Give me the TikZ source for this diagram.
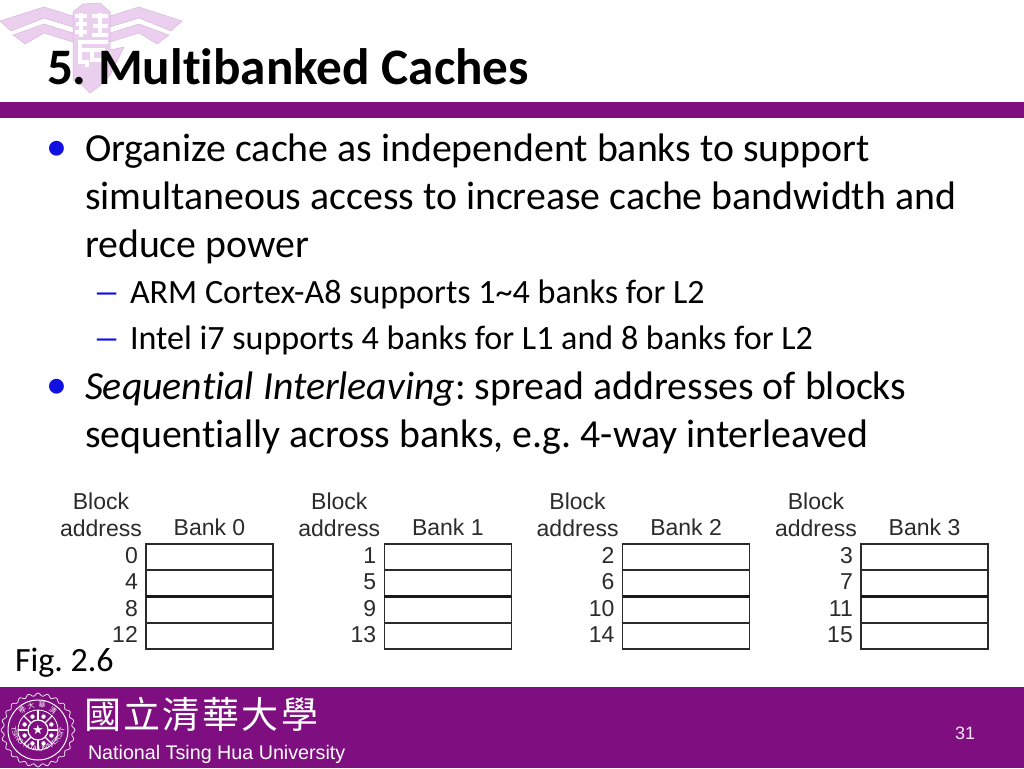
\documentclass[tikz,border=0pt]{standalone}
\usepackage{fontspec}
\usepackage{graphicx}
\usetikzlibrary{calc,decorations.text}
\setmainfont{Carlito}[Ligatures={NoCommon,NoRequired,NoContextual},Contextuals=NoAlternate]
\newfontfamily\arialf{Liberation Sans}
\newfontfamily\dejaf{DejaVu Sans}
\newfontfamily\cjkf{Noto Sans CJK TC}[LetterSpace=6.5]
\newfontfamily\cjksmall{Noto Sans CJK TC}
\definecolor{nthu}{HTML}{7F0F80}
\definecolor{logo}{HTML}{EBCFEE}
\definecolor{logoedge}{HTML}{D8B8DC}
\definecolor{figtext}{HTML}{2B2B2B}
\definecolor{markblue}{HTML}{1010E0}
\tikzset{
 txt/.style={anchor=base west,inner sep=0,outer sep=0,text=black},
 bodyl/.style={txt,font=\frenchspacing\fontsize{39.8}{40}\selectfont},
 subl/.style={txt,font=\frenchspacing\fontsize{34.05}{34}\selectfont},
 bulletm/.style={anchor=base west,inner sep=0,text=markblue,font=\fontsize{42}{42}\selectfont},
 dashm/.style={anchor=base west,inner sep=0,text=markblue,font=\fontsize{34}{34}\selectfont},
 figl/.style={inner sep=0,anchor=base,text=figtext,font=\arialf\fontsize{23}{24}\selectfont},
 numl/.style={figl,anchor=base east},
 cell/.style={draw=figtext,line width=1.1pt,fill=white},
 thickline/.style={draw=black!90,line width=2.2pt},
 wing/.style={fill=logo,draw=logoedge,line width=.5pt},
 glyph/.style={draw=white,line width=3.6pt},
 sealline/.style={draw=white,line width=.8pt},
 sealcjk/.style={inner sep=0,text=white,font=\cjksmall\fontsize{7}{7}\selectfont},
}
\newcommand{\bankgroup}[6]{%
 \begin{scope}[xshift=#1pt]
  \node[figl] (blk#2) at (101,509) {Block};
  \node[figl] (adr#2) at (101,536) {address};
  \node[figl] (bank#2) at (209.5,535) {Bank #2};
  \node[numl] (a#2) at (138,563) {#3};
  \node[numl] (b#2) at (138,589) {#4};
  \node[numl] (c#2) at (138,616) {#5};
  \node[numl] (d#2) at (138,642) {#6};
  \draw[cell] (146,544) rectangle (273,649);
  \draw[cell] (146,570) -- (273,570);
  \draw[thickline] (146,596.5) -- (273,596.5);
  \draw[cell] (146,623) -- (273,623);
 \end{scope}}
\begin{document}
\begin{tikzpicture}[x=1pt,y=-1pt]
\useasboundingbox (0,0) rectangle (1024,768);
\fill[white] (0,0) rectangle (1024,768);
% logo
\draw[wing] (0,21) -- (44,7) -- (73,16) -- (73,27) -- (44,18) -- (11,31) -- cycle;
\draw[wing] (13,35) -- (44,24) -- (73,33) -- (73,42) -- (44,33) -- (25,44) -- cycle;
\draw[wing] (182,21) -- (139,7) -- (110,16) -- (110,27) -- (139,18) -- (171,31) -- cycle;
\draw[wing] (169,35) -- (139,24) -- (110,33) -- (110,42) -- (139,33) -- (157,44) -- cycle;
\draw[wing] (73,12) -- (83,4) -- (100,3) -- (110,12) -- (110,50) -- (124,47) -- (110,75) -- (101,85) -- (90,93) -- (82,85) -- (73,80) -- cycle;
\draw[glyph] (75,16) -- (87,16) (76,24) -- (87,24) (75,32) -- (87,32) (81,13) -- (81,37);
\draw[glyph] (92,16) -- (108,16) (93,26) -- (108,26) (92,35) -- (108,35) (100,13) -- (100,35);
\draw[glyph] (78,42) -- (108,42) (80,50) -- (105,50) (80,42) -- (80,62) -- (87,62) -- (87,67) (92,50) -- (92,60) -- (108,60) -- (108,52);
% title and bar
\node[txt,font=\frenchspacing\bfseries\fontsize{51.2}{51}\selectfont] (title) at (47,84) {5. Multibanked Caches};
\fill[nthu] (0,102) rectangle (1024,118);
% body
\node[bulletm] (m1) at (46,160.5) {•};
\node[bodyl] (l1) at (85,161) {Organize cache as independent banks to support};
\node[bodyl] (l2) at (85,209) {simultaneous access to increase cache bandwidth and};
\node[bodyl] (l3) at (85,257) {reduce power};
\node[dashm] (m2) at (93,303) {\scalebox{1.6}[1]{–}};
\node[subl] (l4) at (130,303) {ARM Cortex-A8 supports 1\textasciitilde4 banks for L2};
\node[dashm] (m3) at (93,349) {\scalebox{1.6}[1]{–}};
\node[subl] (l5) at (130,349) {Intel i7 supports 4 banks for L1 and 8 banks for L2};
\node[bulletm] (m4) at (46,398.5) {•};
\node[bodyl] (l6) at (85,399) {\textit{Sequential Interleaving}: spread addresses of blocks};
\node[bodyl] (l7) at (85,447) {sequentially across banks, e.g. 4-way interleaved};
% figure
\bankgroup{0}{0}{0}{4}{8}{12}
\bankgroup{238.3}{1}{1}{5}{9}{13}
\bankgroup{476.6}{2}{2}{6}{10}{14}
\bankgroup{715}{3}{3}{7}{11}{15}
\node[txt,font=\frenchspacing\fontsize{34}{34}\selectfont] (fig) at (15,671) {Fig. 2.6};
% footer
\fill[nthu] (0,687) rectangle (1024,768);
\draw[white!85!nthu,line width=.8pt] plot[samples=145,domain=0:357.5] ({38+cos(\x)*(35.5+1.5*cos(24*\x))},{730+sin(\x)*(35.5+1.5*cos(24*\x))}) -- cycle;
\draw[sealline,line width=1pt] (38,730) circle (30);
\draw[sealline] (38,730) circle (20);
\draw[sealline,line width=1.2pt] (38,730) circle (10);
\foreach \a in {0,45,...,315}{\draw[sealline,line width=1.2pt] ($(38,730)+(\a:10)$) -- ($(38,730)+(\a:20)$);}
\foreach \a in {22.5,67.5,...,337.5}{\fill[white] ($(38,730)+(\a:14.5)$) circle (2.2);}
\node[inner sep=0,text=white,font=\dejaf\fontsize{13}{13}\selectfont] (star) at (38,730) {★};
\path[postaction={decorate},decoration={text along path,text align={fit to path},text color=white,text={|\arialf\fontsize{7}{7}\selectfont|TSING HUA UNIVERSITY}}] (11,727) arc (173:7:27.2);
\node[sealcjk,rotate=52] (s1) at ($(38,730)+(-15.5,-20)$) {學};
\node[sealcjk,rotate=17] (s2) at (31,705.5) {大};
\node[sealcjk] (s3) at (42,705) {華};
\node[sealcjk,rotate=-35] (s4) at (53,710) {清};
\node[txt,text=white,font=\cjkf\fontsize{37}{37}\selectfont,anchor=base west] (cn) at (84,728) {國立清華大學};
\node[txt,text=white,font=\arialf\fontsize{19.7}{20}\selectfont] (en) at (88,759) {National Tsing Hua University};
\node[inner sep=0,text=white!90!nthu,font=\arialf\fontsize{18}{18}\selectfont] (pg) at (965,733) {31};
\end{tikzpicture}
\end{document}
